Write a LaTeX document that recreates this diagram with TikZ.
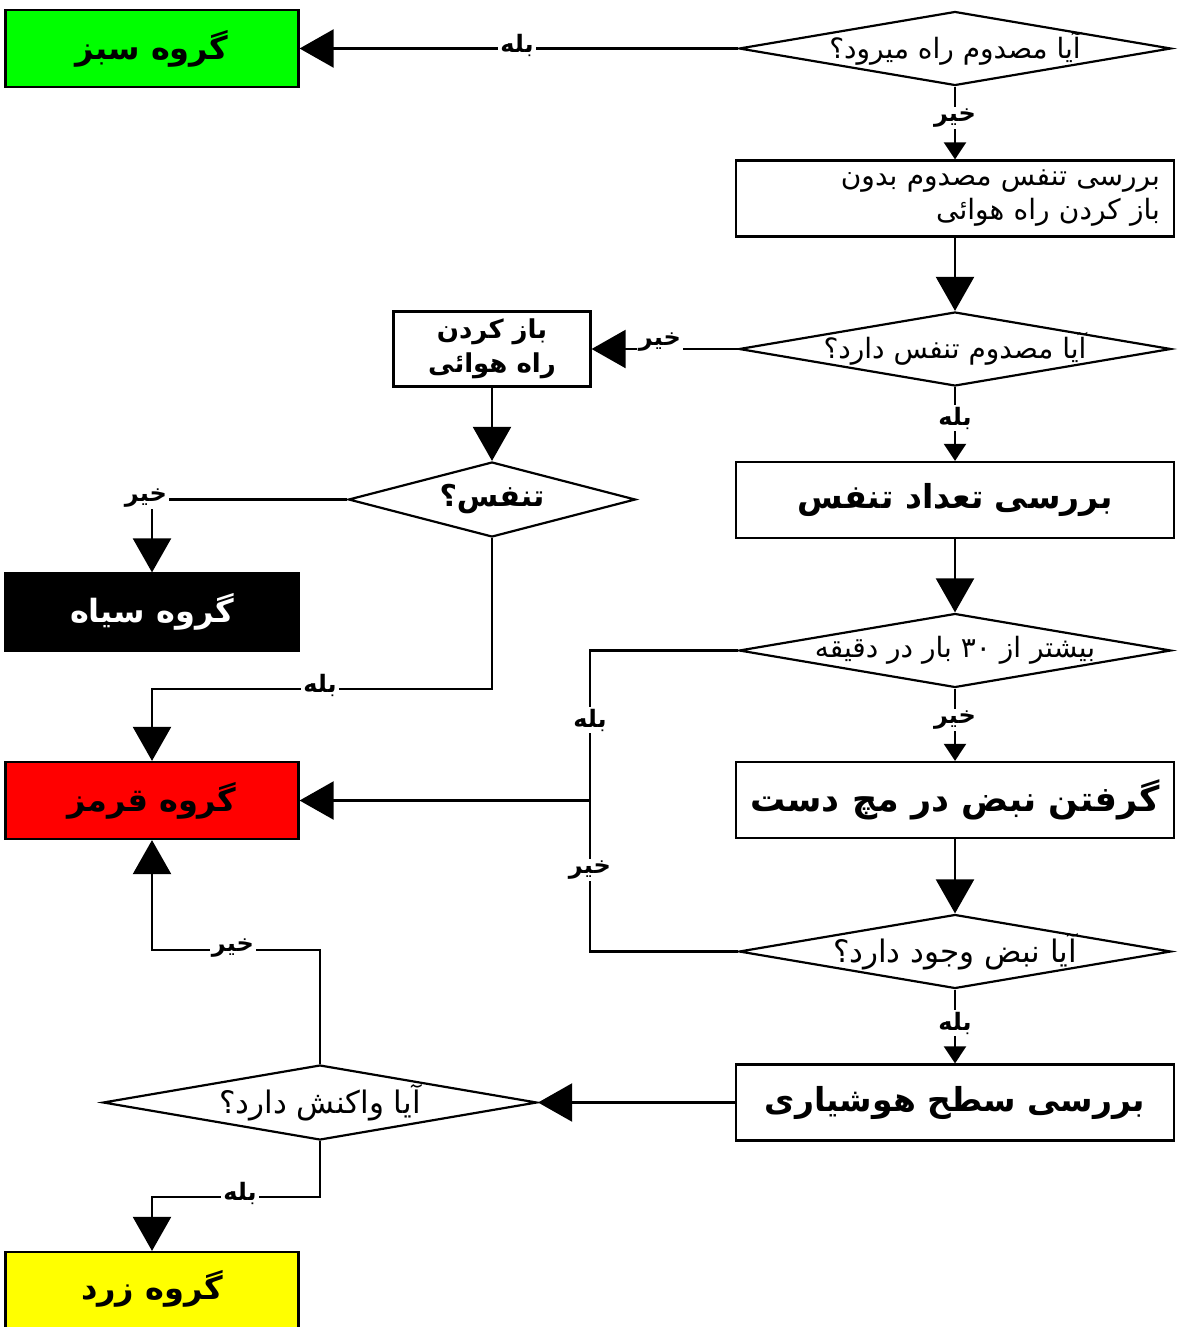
\documentclass[tikz,border=0pt]{standalone}
\usepackage{fontspec}
\usetikzlibrary{shapes.geometric,arrows.meta}
\TeXXeTstate=1
\newfontfamily\arabicfont[Script=Arabic]{DejaVu Sans}
\definecolor{grn}{RGB}{0,255,0}
\definecolor{rd}{RGB}{255,0,0}
\definecolor{ylw}{RGB}{255,255,0}
\tikzset{
  x=1pt, y=-1pt,
  ln/.style={line width=2.2pt},
  bigarr/.style={ln, -{Triangle[length=34pt,width=38pt]}},
  smallarr/.style={ln, -{Triangle[length=17pt,width=22pt]}},
  box/.style={draw, line width=2.2pt, minimum width=438pt, minimum height=76pt, inner sep=0pt,
    font=\arabicfont\bfseries\fontsize{33}{38}\selectfont},
  grp/.style={draw, line width=2.2pt, minimum width=293pt, minimum height=77pt, inner sep=0pt,
    font=\arabicfont\bfseries\fontsize{32}{36}\selectfont},
  dia/.style={draw, diamond, line width=2.2pt, inner sep=0pt, minimum width=432pt, minimum height=74pt},
  qlab/.style={font=\arabicfont\fontsize{28}{32}\selectfont, inner sep=0pt},
  elab/.style={fill=white, inner sep=2pt, font=\arabicfont\bfseries\fontsize{24}{28}\selectfont},
}
\begin{document}
\begin{tikzpicture}
\useasboundingbox (0,0) rectangle (1181,1327);
% nodes
\node[grp, fill=grn] (green) at (152,48.5) {\beginR گروه سبز\endR};
\node[dia, label={[qlab]center:\beginR آیا مصدوم راه میرود؟\endR}] (D1) at (955,48.5) {};
\node[box, font=\arabicfont\fontsize{28}{34}\selectfont, align=right, text width=410pt] (B1) at (955,198.5)
  {\beginR بررسی تنفس مصدوم بدون\endR\\\beginR باز کردن راه هوائی\endR};
\node[dia, label={[qlab]center:\beginR آیا مصدوم تنفس دارد؟\endR}] (D2) at (955,349) {};
\node[box, minimum width=197pt, minimum height=75pt, align=center,
  font=\arabicfont\bfseries\fontsize{26}{34}\selectfont] (B2) at (492,349)
  {\beginR باز کردن\endR\\\beginR راه هوائی\endR};
\node[dia, minimum width=287pt, minimum height=75pt,
  label={[qlab, font=\arabicfont\bfseries\fontsize{30}{34}\selectfont]center:\beginR تنفس؟\endR}] (D3) at (492,499.5) {};
\node[grp, fill=black, text=white] (black) at (152,612) {\beginR گروه سیاه\endR};
\node[box] (B3) at (955,500) {\beginR بررسی تعداد تنفس\endR};
\node[dia, label={[qlab]center:\beginR بیشتر از \beginL ۳۰\endL{} بار در دقیقه\endR}] (D4) at (955,650.5) {};
\node[grp, fill=rd] (red) at (152,800.5) {\beginR گروه قرمز\endR};
\node[box, font=\arabicfont\bfseries\fontsize{35}{40}\selectfont] (B4) at (955,800) {\beginR گرفتن نبض در مچ دست\endR};
\node[dia, label={[qlab, font=\arabicfont\fontsize{31}{35}\selectfont]center:\beginR آیا نبض وجود دارد؟\endR}] (D5) at (955,951.5) {};
\node[box] (B5) at (955,1102.5) {\beginR بررسی سطح هوشیاری\endR};
\node[dia, minimum width=434pt, minimum height=75pt,
  label={[qlab, font=\arabicfont\fontsize{31}{35}\selectfont]center:\beginR آیا واکنش دارد؟\endR}] (D6) at (320,1102.5) {};
\node[grp, fill=ylw, minimum height=80pt] (yellow) at (152,1292) {};
\node[font=\arabicfont\bfseries\fontsize{32}{36}\selectfont, inner sep=0pt] (yt) at (152,1289) {\beginR گروه زرد\endR};
% coordinates
\coordinate (j1) at (590,650.5);
\coordinate (j2) at (590,800.5);
\coordinate (j3) at (590,951.5);
% connectors
\draw[bigarr] (D1.west) -- (green.east);
\draw[smallarr] (D1.south) -- (B1.north);
\draw[bigarr] (B1.south) -- (D2.north);
\draw[bigarr] (D2.west) -- (B2.east);
\draw[bigarr] (B2.south) -- (D3.north);
\draw[bigarr] (D3.west) -| (black.north);
\draw[bigarr] (D3.south) -- ++(0,151) -| (red.north);
\draw[smallarr] (D2.south) -- (B3.north);
\draw[bigarr] (B3.south) -- (D4.north);
\draw[ln] (D4.west) -- (j1) -- (j2);
\draw[ln] (D5.west) -- (j3) -- (j2);
\draw[bigarr] (j2) -- (red.east);
\draw[smallarr] (D4.south) -- (B4.north);
\draw[bigarr] (B4.south) -- (D5.north);
\draw[smallarr] (D5.south) -- (B5.north);
\draw[bigarr] (B5.west) -- (D6.east);
\draw[bigarr] (D6.north) -- ++(0,-114) -| (red.south);
\draw[bigarr] (D6.south) -- ++(0,56) -| (yellow.north);
% edge labels
\node[elab] (l1) at (517,45) {\beginR بله\endR};
\node[elab] (l2) at (955,118) {\beginR خیر\endR};
\node[elab] (l3) at (660,342) {\beginR خیر\endR};
\node[elab] (l4) at (955,418) {\beginR بله\endR};
\node[elab] (l5) at (146,498) {\beginR خیر\endR};
\node[elab] (l6) at (320,685) {\beginR بله\endR};
\node[elab] (l7) at (590,720) {\beginR بله\endR};
\node[elab] (l8) at (955,720) {\beginR خیر\endR};
\node[elab] (l9) at (590,870) {\beginR خیر\endR};
\node[elab] (l10) at (955,1023) {\beginR بله\endR};
\node[elab] (l11) at (233,948) {\beginR خیر\endR};
\node[elab] (l12) at (240,1193) {\beginR بله\endR};
\end{tikzpicture}
\end{document}
